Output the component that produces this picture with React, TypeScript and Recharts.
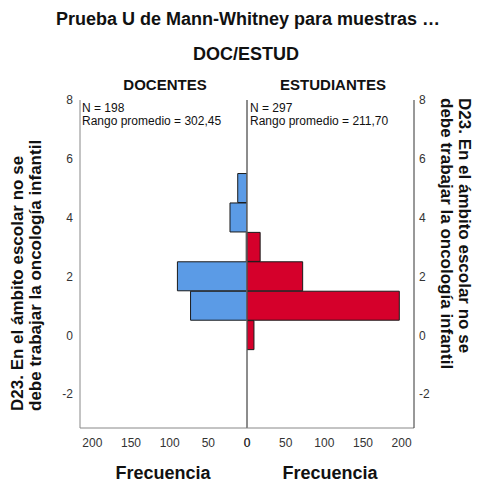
import React from 'react';
import { BarChart, Bar, XAxis, YAxis, ReferenceLine } from 'recharts';

const ranks = [0, 1, 2, 3, 4, 5];
const docentes = [0, 73, 90, 1, 22, 12];
const estudiantes = [9, 197, 72, 17, 0, 0];
const yTicks = [-2, 0, 2, 4, 6, 8];
const xTicks = [0, 50, 100, 150, 200];
const yDomain: [number, number] = [-3.15, 8];
const xMax = 216;

const title = 'Prueba U de Mann-Whitney para muestras …';
const subtitle = 'DOC/ESTUD';
const groupLeft = 'DOCENTES';
const groupRight = 'ESTUDIANTES';
const statsLeft = ['N = 198', 'Rango promedio = 302,45'];
const statsRight = ['N = 297', 'Rango promedio = 211,70'];
const yTitle = ['D23. En el ámbito escolar no se', 'debe trabajar la oncología infantil'];
const xTitle = 'Frecuencia';

const data = ranks.map((r, i) => ({ rank: r, doc: docentes[i], est: estudiantes[i] }));

const FONT = '"Liberation Sans", Arial, sans-serif';
const tickStyle = { fontSize: 12, fill: '#333', fontFamily: FONT };

export default function App() {
  return (
    <div style={{ position: 'absolute', left: 0, top: 0, width: 484, height: 490, background: '#fff', fontFamily: FONT }}>
      <div style={{ position: 'absolute', left: 0, top: 0 }}>
        <BarChart width={484} height={490} data={data} layout="vertical" barCategoryGap={0} barGap={0}
          margin={{ top: 100, right: 237, bottom: 30, left: 40 }}>
          <XAxis type="number" domain={[0, xMax]} ticks={xTicks} reversed allowDataOverflow
            axisLine={{ stroke: '#888' }} tickLine={false} height={32} tickMargin={4} tick={tickStyle} />
          <YAxis type="number" dataKey="rank" domain={yDomain} ticks={yTicks} allowDataOverflow width={40} reversed
            axisLine={{ stroke: '#888' }} tickLine={false} tickMargin={1} tick={tickStyle} />
          <Bar dataKey="doc" fill="#5b9be6" stroke="#1a1a1a" strokeWidth={1} isAnimationActive={false} />
          <ReferenceLine x={0} stroke="#666" strokeWidth={1} />
        </BarChart>
      </div>
      <div style={{ position: 'absolute', left: 0, top: 0 }}>
        <BarChart width={484} height={490} data={data} layout="vertical" barCategoryGap={0} barGap={0}
          margin={{ top: 100, right: 30, bottom: 30, left: 247 }}>
          <XAxis type="number" domain={[0, xMax]} ticks={xTicks} allowDataOverflow
            axisLine={{ stroke: '#888' }} tickLine={false} height={32} tickMargin={4} tick={tickStyle} />
          <YAxis type="number" dataKey="rank" orientation="right" domain={yDomain} ticks={yTicks} allowDataOverflow width={40} reversed
            axisLine={{ stroke: '#333' }} tickLine={false} tickSize={5} tickMargin={0} tick={tickStyle} />
          <Bar dataKey="est" fill="#d5002b" stroke="#1a1a1a" strokeWidth={1} isAnimationActive={false} />
          <ReferenceLine x={0} stroke="#666" strokeWidth={1} />
        </BarChart>
      </div>
      <svg width={484} height={490} style={{ position: 'absolute', left: 0, top: 0, pointerEvents: 'none' }}>
        <text x={248} y={25} textAnchor="middle" fontSize={18} fontWeight="bold" fill="#111">{title}</text>
        <text x={246} y={60} textAnchor="middle" fontSize={18} fontWeight="bold" fill="#111">{subtitle}</text>
        <text x={165} y={90} textAnchor="middle" fontSize={15} fontWeight="bold" fill="#111">{groupLeft}</text>
        <text x={333} y={90} textAnchor="middle" fontSize={15} fontWeight="bold" fill="#111">{groupRight}</text>
        <text x={82} y={112} fontSize={12} fill="#111">{statsLeft[0]}</text>
        <text x={82} y={125} fontSize={12} fill="#111">{statsLeft[1]}</text>
        <text x={250} y={112} fontSize={12} fill="#111">{statsRight[0]}</text>
        <text x={250} y={125} fontSize={12} fill="#111">{statsRight[1]}</text>
        <text transform="translate(23,411) rotate(-90)" fontSize={17} fontWeight="bold" fill="#111">{yTitle[0]}</text>
        <text transform="translate(41,411) rotate(-90)" fontSize={17} fontWeight="bold" fill="#111">{yTitle[1]}</text>
        <text transform="translate(459,98) rotate(90)" fontSize={17} fontWeight="bold" fill="#111">{yTitle[0]}</text>
        <text transform="translate(441,98) rotate(90)" fontSize={17} fontWeight="bold" fill="#111">{yTitle[1]}</text>
        <text x={163} y={479} textAnchor="middle" fontSize={18} fontWeight="bold" fill="#111">{xTitle}</text>
        <text x={330} y={479} textAnchor="middle" fontSize={18} fontWeight="bold" fill="#111">{xTitle}</text>
      </svg>
    </div>
  );
}
